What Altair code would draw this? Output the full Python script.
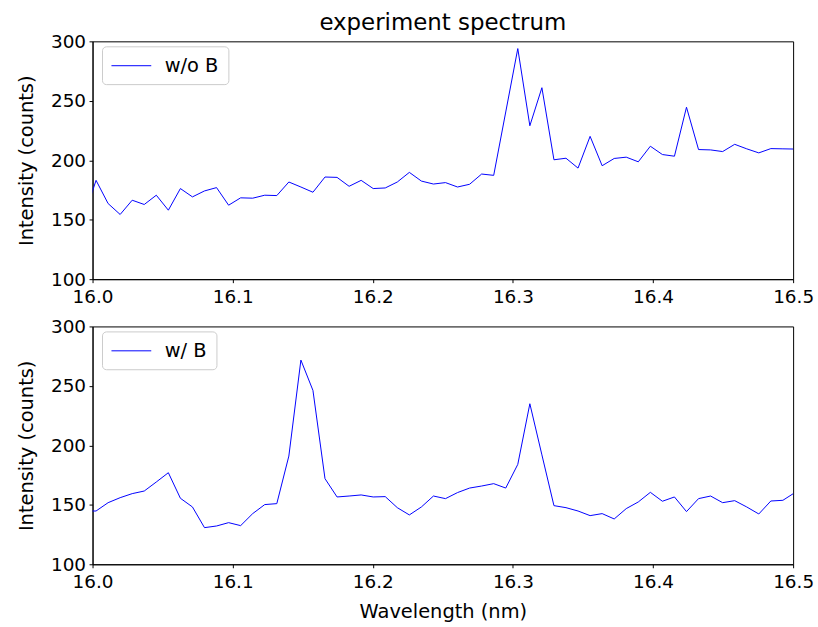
import altair as alt
import pandas as pd

FONT = "DejaVu Sans"

# Wavelength grid (nm); the first and last samples fall just outside the plotted range
wavelength = [
    15.9939, 16.0025, 16.0111, 16.0197, 16.0283, 16.0369, 16.0455, 16.0541, 16.0627, 16.0713,
    16.0799, 16.0885, 16.0971, 16.1057, 16.1143, 16.1229, 16.1315, 16.1401, 16.1487, 16.1573,
    16.1659, 16.1745, 16.1831, 16.1917, 16.2003, 16.2089, 16.2175, 16.2261, 16.2347, 16.2433,
    16.2519, 16.2605, 16.2691, 16.2777, 16.2863, 16.2949, 16.3035, 16.3121, 16.3207, 16.3293,
    16.3379, 16.3465, 16.3551, 16.3637, 16.3723, 16.3809, 16.3895, 16.3981, 16.4067, 16.4153,
    16.4239, 16.4325, 16.4411, 16.4497, 16.4583, 16.4669, 16.4755, 16.4841, 16.4927, 16.5013,
]

# Measured intensity without magnetic field (counts)
intensity_without_b = [
    152.5, 183.1, 163.6, 154.4, 166.4, 162.8, 170.6, 158.0, 176.2, 169.2,
    174.2, 177.0, 162.2, 168.4, 168.1, 170.6, 170.3, 181.7, 177.5, 173.1,
    185.9, 185.6, 178.1, 183.1, 176.2, 176.7, 181.7, 189.8, 182.5, 180.0,
    181.2, 177.5, 179.8, 188.4, 187.3, 240.6, 293.9, 229.0, 261.0, 200.4,
    201.7, 193.4, 220.1, 195.4, 201.5, 202.6, 198.7, 211.8, 204.8, 203.4,
    244.6, 209.0, 208.7, 207.3, 213.4, 209.6, 206.2, 209.8, 209.6, 209.4,
]

# Measured intensity with magnetic field (counts)
intensity_with_b = [
    144.8, 144.8, 151.8, 156.0, 159.4, 161.6, 169.2, 177.0, 155.5, 148.2,
    130.8, 132.2, 135.0, 132.5, 142.6, 150.2, 151.0, 191.0, 271.7, 246.2,
    172.0, 156.6, 157.4, 158.3, 156.6, 156.9, 147.6, 141.5, 148.2, 157.4,
    155.2, 160.3, 164.1, 165.8, 167.8, 164.1, 184.0, 235.0, 192.0, 149.3,
    147.6, 144.8, 140.9, 142.6, 138.1, 146.8, 152.4, 160.5, 153.0, 156.6,
    144.3, 155.2, 157.4, 151.8, 153.5, 148.2, 142.3, 153.2, 153.8, 160.3,
]

x_ticks = [16.0, 16.1, 16.2, 16.3, 16.4, 16.5]
y_ticks = [100, 150, 200, 250, 300]


def panel(values, name, x_title=None, title=None):
    df = pd.DataFrame({"wavelength": wavelength, "intensity": values, "series": name})
    x_kwargs = {"title": x_title} if x_title else {"title": None}
    chart = alt.Chart(df).mark_line(clip=True, strokeWidth=1).encode(
        x=alt.X(
            "wavelength:Q",
            scale=alt.Scale(domain=[16.0, 16.5], nice=False, zero=False),
            axis=alt.Axis(values=x_ticks, format=".1f", titlePadding=12, labelPadding=4.5),
            **x_kwargs,
        ),
        y=alt.Y(
            "intensity:Q",
            title="Intensity (counts)",
            scale=alt.Scale(domain=[100, 300], nice=False, zero=False),
            axis=alt.Axis(values=y_ticks, format="d", titlePadding=14.5),
        ),
        color=alt.Color(
            "series:N",
            scale=alt.Scale(domain=[name], range=["#0000ff"]),
            legend=alt.Legend(
                title=None,
                orient="none",
                legendX=9.5,
                legendY=5,
                # short horizontal stroke, 40 px long at size 400
                symbolType="M-1,0H3",
                symbolSize=400,
                symbolStrokeWidth=1,
                labelFont=FONT,
                labelFontSize=19.5,
                labelColor="black",
                labelOffset=33,
                padding=9,
                strokeColor="#cccccc",
                cornerRadius=4,
                fillColor="white",
            ),
        ),
    )
    props = {"width": 704, "height": 239}
    if title:
        props["title"] = alt.TitleParams(
            title, font=FONT, fontSize=23, fontWeight="normal", color="black",
            anchor="middle", offset=-3,
        )
    return chart.properties(**props)


top = panel(intensity_without_b, "w/o B", title="experiment spectrum")
bottom = panel(intensity_with_b, "w/ B", x_title="Wavelength (nm)")

chart = (
    alt.vconcat(top, bottom, spacing=47.5, bounds="flush")
    .resolve_scale(color="independent")
    .resolve_legend(color="independent")
    .properties(padding={"left": 15, "top": 10, "right": 3, "bottom": 5})
    .configure(background="white")
    .configure_view(stroke="black", strokeWidth=1)
    .configure_axis(
        labelFont=FONT,
        labelFontSize=18.5,
        labelColor="black",
        labelPadding=3.5,
        labelFlush=False,
        titleFont=FONT,
        titleFontSize=19.5,
        titleFontWeight="normal",
        titleColor="black",
        domainColor="black",
        domainWidth=1,
        tickColor="black",
        tickWidth=1,
        tickSize=3.5,
        grid=False,
    )
)

chart.save("out.html", embed_options={"renderer": "svg", "actions": False})
